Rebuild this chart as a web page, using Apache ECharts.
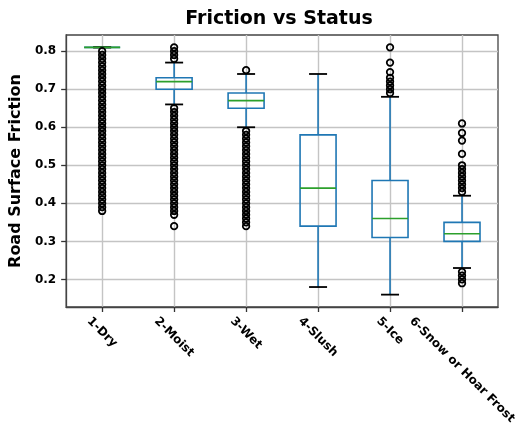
<!DOCTYPE html>
<html><head><meta charset="utf-8">
<script src="https://cdn.jsdelivr.net/npm/echarts@6/dist/echarts.min.js"></script>
<style>html,body{margin:0;padding:0;background:#fff}#c{width:517px;height:432px}</style>
</head><body><div id="c"></div>
<script>
const categories = ['1-Dry', '2-Moist', '3-Wet', '4-Slush', '5-Ice', '6-Snow or Hoar Frost'];
// [lower whisker, Q1, median, Q3, upper whisker]
const boxDry   = [0.81, 0.81, 0.81, 0.81, 0.81];
const boxMoist = [0.66, 0.70, 0.72, 0.73, 0.77];
const boxWet   = [0.60, 0.65, 0.67, 0.69, 0.74];
const boxSlush = [0.18, 0.34, 0.44, 0.58, 0.74];
const boxIce   = [0.16, 0.31, 0.36, 0.46, 0.68];
const boxSnow  = [0.23, 0.30, 0.32, 0.35, 0.42];
// outliers (fliers)
const fliersDry = [0.38, 0.39, 0.40, 0.41, 0.42, 0.43, 0.44, 0.45, 0.46, 0.47, 0.48, 0.49, 0.50, 0.51, 0.52, 0.53, 0.54, 0.55, 0.56, 0.57, 0.58, 0.59, 0.60, 0.61, 0.62, 0.63, 0.64, 0.65, 0.66, 0.67, 0.68, 0.69, 0.70, 0.71, 0.72, 0.73, 0.74, 0.75, 0.76, 0.77, 0.78, 0.79, 0.80];
const fliersMoist = [0.34, 0.37, 0.38, 0.39, 0.40, 0.41, 0.42, 0.43, 0.44, 0.45, 0.46, 0.47, 0.48, 0.49, 0.50, 0.51, 0.52, 0.53, 0.54, 0.55, 0.56, 0.57, 0.58, 0.59, 0.60, 0.61, 0.62, 0.63, 0.64, 0.65, 0.78, 0.79, 0.80, 0.81];
const fliersWet = [0.34, 0.35, 0.36, 0.37, 0.38, 0.39, 0.40, 0.41, 0.42, 0.43, 0.44, 0.45, 0.46, 0.47, 0.48, 0.49, 0.50, 0.51, 0.52, 0.53, 0.54, 0.55, 0.56, 0.57, 0.58, 0.59, 0.75];
const fliersSlush = [];
const fliersIce = [0.69, 0.70, 0.71, 0.72, 0.73, 0.745, 0.77, 0.81];
const fliersSnow = [0.19, 0.20, 0.21, 0.22, 0.43, 0.44, 0.45, 0.46, 0.47, 0.48, 0.49, 0.50, 0.53, 0.565, 0.585, 0.61];
const yTickValues = [0.2, 0.3, 0.4, 0.5, 0.6, 0.7, 0.8];
const xTickValues = [1, 2, 3, 4, 5, 6];

const boxes = [boxDry, boxMoist, boxWet, boxSlush, boxIce, boxSnow];
const fliers = [fliersDry, fliersMoist, fliersWet, fliersSlush, fliersIce, fliersSnow];
const boxData = boxes.map((b, i) => [i + 1].concat(b));
const flierData = [];
fliers.forEach((arr, i) => arr.forEach(v => flierData.push([i + 1, v])));

const Y_MIN = 0.1275, Y_MAX = 0.8425;
const FONT = '"DejaVu Sans", sans-serif';
const labelFont = 'bold 12px "DejaVu Sans", sans-serif';
const mctx = document.createElement('canvas').getContext('2d');
mctx.font = labelFont;
const isYTick = v => yTickValues.some(t => Math.abs(t - v) < 1e-6);

const chart = echarts.init(document.getElementById('c'), null, {renderer: 'canvas'});
chart.setOption({
  animation: false,
  backgroundColor: '#fff',
  title: {
    text: 'Friction vs Status',
    left: 274, top: 5, textAlign: 'center',
    textStyle: {fontFamily: FONT, fontWeight: 'bold', fontSize: 19, color: '#000'}
  },
  grid: {left: 63, right: 19, top: 35, bottom: 125, show: true, borderColor: '#444', borderWidth: 1.3, backgroundColor: 'transparent'},
  xAxis: {
    type: 'value', min: 0.5, max: 6.5, splitNumber: 6,
    axisLine: {show: true, lineStyle: {color: '#444', width: 1.3}},
    axisTick: {show: true, length: 5, customValues: xTickValues, lineStyle: {color: '#333', width: 1.3}},
    axisLabel: {show: false},
    splitLine: {show: true, lineStyle: {color: '#c4c4c4', width: 1.4}}
  },
  yAxis: {
    type: 'value', min: Y_MIN, max: Y_MAX, splitNumber: 7,
    name: 'Road Surface Friction', nameLocation: 'middle', nameGap: 40,
    nameTextStyle: {fontFamily: FONT, fontWeight: 'bold', fontSize: 16, color: '#000'},
    axisLine: {show: true, lineStyle: {color: '#444', width: 1.3}},
    axisTick: {show: true, length: 5, customValues: yTickValues, lineStyle: {color: '#333', width: 1.3}},
    axisLabel: {
      fontFamily: FONT, fontWeight: 'bold', fontSize: 12, color: '#000', margin: 10,
      customValues: yTickValues,
      formatter: v => isYTick(v) ? v.toFixed(1) : ''
    },
    splitLine: {show: true, lineStyle: {color: '#c4c4c4', width: 1.4}}
  },
  series: [
    {
      type: 'custom', z: 2, silent: true,
      data: boxData,
      encode: {x: 0, y: [1, 2, 3, 4, 5]},
      renderItem: function (params, api) {
        const x = api.value(0);
        const pLo = api.coord([x, api.value(1)]);
        const pQ1 = api.coord([x, api.value(2)]);
        const pMed = api.coord([x, api.value(3)]);
        const pQ3 = api.coord([x, api.value(4)]);
        const pHi = api.coord([x, api.value(5)]);
        const unit = api.size([1, 0])[0];
        const bh = unit * 0.25, ch = unit * 0.125, cx = pQ1[0];
        const blue = {stroke: '#1f77b4', lineWidth: 1.6, fill: null};
        const blk = {stroke: '#000', lineWidth: 1.8};
        return {type: 'group', children: [
          {type: 'line', shape: {x1: cx, y1: pQ3[1], x2: cx, y2: pHi[1]}, style: blue},
          {type: 'line', shape: {x1: cx, y1: pQ1[1], x2: cx, y2: pLo[1]}, style: blue},
          {type: 'rect', shape: {x: cx - bh, y: pQ3[1], width: 2 * bh, height: pQ1[1] - pQ3[1]}, style: {stroke: '#1f77b4', lineWidth: 1.6, fill: 'none'}},
          {type: 'line', shape: {x1: cx - ch, y1: pHi[1], x2: cx + ch, y2: pHi[1]}, style: blk},
          {type: 'line', shape: {x1: cx - ch, y1: pLo[1], x2: cx + ch, y2: pLo[1]}, style: blk},
          {type: 'line', shape: {x1: cx - bh, y1: pMed[1], x2: cx + bh, y2: pMed[1]}, style: {stroke: '#2ca02c', lineWidth: 1.6}}
        ]};
      }
    },
    {
      type: 'scatter', z: 3, silent: true,
      data: flierData,
      symbol: 'circle', symbolSize: 6.5,
      itemStyle: {color: 'rgba(0,0,0,0)', borderColor: '#000', borderWidth: 1.8, opacity: 1}
    },
    {
      type: 'custom', z: 4, silent: true, clip: false,
      data: categories.map((c, i) => [i + 1, Y_MIN]),
      encode: {x: 0, y: 1},
      renderItem: function (params, api) {
        const p = api.coord([api.value(0), api.value(1)]);
        const name = categories[params.dataIndex];
        const L = mctx.measureText(name).width;
        return {
          type: 'text', x: p[0], y: p[1] + 8 + (L + 12) * 0.3536, rotation: -Math.PI / 4,
          style: {text: name, font: labelFont, fill: '#000', align: 'center', verticalAlign: 'middle'}
        };
      }
    }
  ]
});
</script></body></html>
